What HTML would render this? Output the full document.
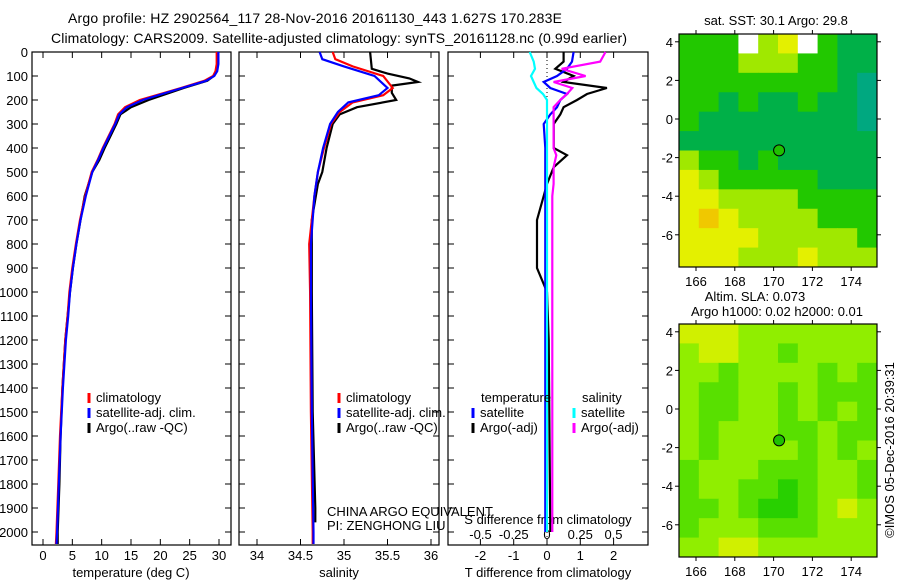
<!DOCTYPE html>
<html><head><meta charset="utf-8"><style>
body{margin:0;background:#fff}
svg{display:block;font-family:"Liberation Sans",sans-serif}
text{font-size:13px;fill:#000}
</style></head><body>
<svg id="c" width="900" height="580" viewBox="0 0 900 580" xmlns="http://www.w3.org/2000/svg">
<text x="68" y="23" textLength="494" style="font-size:14px">Argo profile: HZ 2902564_117 28-Nov-2016 20161130_443 1.627S 170.283E</text>
<text x="51" y="43" textLength="576" style="font-size:14px">Climatology: CARS2009. Satellite-adjusted climatology: synTS_20161128.nc (0.99d earlier)</text>
<g id="g"></g>
</svg>
<script>
const depthTicks=[0,100,200,300,400,500,600,700,800,900,1000,1100,1200,1300,1400,1500,1600,1700,1800,1900,2000];
const tempTicks=[0,5,10,15,20,25,30];
const salTicks=[34,34.5,35,35.5,36];
const tdiffTicks=[-2,-1,0,1,2];
const sdiffTicks=[-0.5,-0.25,0,0.25,0.5];
const sdiffLabels=["-0.5","-0.25","0","0.25","0.5"];
const tDepth=[0,50,80,100,120,150,175,200,230,260,300,350,400,450,500,600,700,800,900,1000,1100,1200,1400,1600,1800,2000,2050];
const tClim=[29.6,29.6,29.4,29,27.5,23.5,20,16.5,14,12.8,12.2,11.2,10.2,9.3,8.3,7.2,6.3,5.6,5,4.5,4.2,3.8,3.3,2.9,2.6,2.3,2.2];
const tSat =[29.9,29.9,29.7,29.2,27.8,23.7,20.3,17,14.3,13,12.3,11.3,10.3,9.4,8.4,7.3,6.4,5.7,5.1,4.6,4.3,3.9,3.4,3,2.7,2.4,2.3];
const tArgo=[29.8,29.8,29.6,29.1,28,24,21,18,15,13.2,12.5,11.5,10.5,9.6,8.4,7.1,6.4,5.7,5.1,4.6,4.2,3.8,3.3,3,2.8,2.5,2.5];
const sDepth=[0,30,60,100,150,180,210,250,300,400,500,600,800,1000,1500,2000,2050];
const sClim=[34.87,34.9,35.1,35.45,35.56,35.45,35.1,34.95,34.85,34.77,34.7,34.66,34.6,34.61,34.62,34.64,34.64];
const sSat =[34.72,34.75,35.0,35.35,35.5,35.4,35.05,34.93,34.84,34.76,34.7,34.66,34.62,34.62,34.63,34.65,34.65];
const aDepth=[0,70,90,110,125,140,170,200,230,260,300,400,500,550,700,1000,1500,1900,1960];
const sArgo=[35.3,35.32,35.5,35.75,35.85,35.55,35.55,35.6,35.15,34.95,34.87,34.8,34.75,34.7,34.63,34.63,34.64,34.67,34.67];
const dDepth=[0,40,70,100,125,150,175,200,230,260,300,400,430,480,550,600,700,800,900,1000,1200,2000];
const dT_argo=[0.5,0.5,0.25,0.8,0.5,1.8,1.2,0.9,0.5,0.4,0.2,0.2,0.6,0.2,0,-0.1,-0.3,-0.3,-0.3,0,0.05,0.1];
const dT_sat=[0.8,0.75,0.6,0.3,-0.1,0.1,0.6,0.4,0.3,0.1,-0.1,-0.05,-0.05,-0.05,-0.05,-0.05,-0.05,-0.05,-0.05,-0.05,-0.05,-0.05];
const dS_sat=[-0.13,-0.1,-0.09,-0.12,-0.1,-0.08,-0.03,0,0,0,0,0,0,0,0,0,0,0,0,0,0,0];
const dS_argo=[0.44,0.4,0.11,0.29,0.05,0.19,0.15,0.1,0.05,0.05,0.05,0.05,0.07,0.05,0.05,0.04,0.04,0.04,0.04,0.04,0.04,0.04];
const mapLonTicks=[166,168,170,172,174];
const mapLatTicks=[4,2,0,-2,-4,-6];
const sstRows=["GGGWLYWGDD","GGGLLLGGDD","GGGGGGGGDT","GGDGDDGDDT","GDDDDDDDDT","DDDDDDDDDD","LGGDGDDDDD","YLGGGGGDDD","YYLLLLGGGG","YOYLLLLGGG","YYYYLLLLLG","YYYLLLYLLL"];
const slaRows=["YYYLLLLLLL","LYYLLGLLLL","LLGLLLLGLG","LGGLLGLGGG","LGGLLGLGLG","LGLLLGGLGG","LGLLLLGLGL","GLLLGGGLLG","GLLGGDGLLG","GGLGDDGLYL","GLLLGGGLLL","LLYYLLLLLL"];
const argoLon=170.283, argoLat=-1.627;

const NS="http://www.w3.org/2000/svg";
const G=document.getElementById('g');
function el(tg,a,p){const e=document.createElementNS(NS,tg);for(const k in a)e.setAttribute(k,a[k]);(p||G).appendChild(e);return e;}
function txt(s,x,y,anchor,p){const e=el('text',{x:x,y:y,'text-anchor':anchor||'start'},p);e.textContent=s;return e;}
const pTop=52,pBot=545;
const yD=d=>pTop+d*0.24;
const xT=v=>43+v*(176/30);
const xS=v=>257+(v-34)*87;
const xDT=v=>547+v*33.3;
const xDS=v=>547+v*133;

function frame(x0,x1,name){
  const r=el('rect',{x:x0,y:pTop,width:x1-x0,height:pBot-pTop,fill:'none',stroke:'#000','stroke-width':1.2});
  
  
}
frame(32,231,'temperature-panel');frame(239,439,'salinity-panel');frame(448,648,'difference-panel');
depthTicks.forEach(d=>{
  const y=yD(d);
  [[32,231],[239,439],[448,648]].forEach(([a,b])=>{el('line',{x1:a,y1:y,x2:a+6,y2:y,stroke:'#000'});el('line',{x1:b,y1:y,x2:b-6,y2:y,stroke:'#000'});});
  const e=txt(String(d),28,y+5,'end');
  
  
});
function xticks(ticks,f,ly){
  ticks.forEach(v=>{const x=f(v);el('line',{x1:x,y1:pTop,x2:x,y2:pTop+6,stroke:'#000'});el('line',{x1:x,y1:pBot,x2:x,y2:pBot-6,stroke:'#000'});
    const e=txt(String(v),x,ly,'middle');
    
    });
}
xticks(tempTicks,xT,560);
xticks(salTicks,xS,560);
xticks(tdiffTicks,xDT,560);
sdiffTicks.forEach((v,i)=>{const e=txt(sdiffLabels[i],xDS(v),539,'middle');
  
  });
let t;
t=txt('temperature (deg C)',131,577,'middle');
t=txt('salinity',339,577,'middle');
t=txt('T difference from climatology',548,577,'middle');
t=txt('S difference from climatology',548,524,'middle');
t=txt('CHINA ARGO EQUIVALENT',327,516);
t=txt('PI: ZENGHONG LIU',327,530);
el('line',{x1:547,y1:pTop,x2:547,y2:pBot,stroke:'#000','stroke-dasharray':'1,3'});
function line(depths,vals,fx,color,name,w){
  const p=el('polyline',{points:depths.map((d,i)=>fx(vals[i]).toFixed(1)+','+yD(d).toFixed(1)).join(' '),fill:'none',stroke:color,'stroke-width':w||2.2});
  
  
}
line(tDepth,tArgo,xT,'#000','temp-argo-line');
line(tDepth,tClim,xT,'#f00','temp-climatology-line');
line(tDepth,tSat,xT,'#00f','temp-satellite-line');
line(aDepth,sArgo,xS,'#000','sal-argo-line');
line(sDepth,sClim,xS,'#f00','sal-climatology-line');
line(sDepth,sSat,xS,'#00f','sal-satellite-line');
line(dDepth,dT_argo,xDT,'#000','tdiff-argo-line');
line(dDepth,dT_sat,xDT,'#00f','tdiff-satellite-line');
line(dDepth,dS_argo,xDS,'#f0f','sdiff-argo-line');
line(dDepth,dS_sat,xDS,'#0ff','sdiff-satellite-line');
function leg(x,y,c,s,name){el('line',{x1:x,y1:y-9,x2:x,y2:y+1,stroke:c,'stroke-width':3});const e=txt(s,x+7,y);
  
  }
[[89,'temp'],[339,'sal']].forEach(([x,n])=>{
  leg(x,402,'#f00','climatology',n+'-legend-climatology');
  leg(x,417,'#00f','satellite-adj. clim.',n+'-legend-satellite');
  leg(x,432,'#000','Argo(..raw -QC)',n+'-legend-argo');});
t=txt('temperature',481,402);
t=txt('salinity',582,402);
leg(473,417,'#00f','satellite','legend-t-satellite');
leg(473,432,'#000','Argo(-adj)','legend-t-argo');
leg(574,417,'#0ff','satellite','legend-s-satellite');
leg(574,432,'#f0f','Argo(-adj)','legend-s-argo');
const mx0=679,mx1=877;
const lonX=l=>696+(l-166)*19.4;
function map(y0,rows,cols,name,latY){
  const g=el('g',{});
  
  
  const h=233,nr=rows.length,nc=rows[0].length;
  rows.forEach((r,i)=>{[...r].forEach((ch,j)=>{
    const c=el('rect',{x:mx0+j*(mx1-mx0)/nc,y:y0+i*h/nr,width:(mx1-mx0)/nc+0.5,height:h/nr+0.5,fill:cols[ch]},g);
    
    
  });});
  el('rect',{x:mx0,y:y0,width:mx1-mx0,height:h,fill:'none',stroke:'#000','stroke-width':1.2});
  mapLonTicks.forEach(l=>{const x=lonX(l);el('line',{x1:x,y1:y0,x2:x,y2:y0-4,stroke:'#000'});el('line',{x1:x,y1:y0+h,x2:x,y2:y0+h+4,stroke:'#000'});
    const e=txt(String(l),x,y0+h+19,'middle');
    
    });
  mapLatTicks.forEach(la=>{const y=latY(la);el('line',{x1:mx0,y1:y,x2:mx0-4,y2:y,stroke:'#000'});el('line',{x1:mx1,y1:y,x2:mx1+4,y2:y,stroke:'#000'});
    const e=txt(String(la),673,y+5,'end');
    
    });
  const c=el('circle',{cx:lonX(argoLon),cy:latY(argoLat),r:5.5,fill:'#20c000',stroke:'#000','stroke-width':1});
  
  
}
map(34,sstRows,{G:'#22c800',D:'#00b048',T:'#00a880',L:'#a0e800',Y:'#e4f000',O:'#f0c800',W:'#ffffff'},'sst-map',la=>119-la*19.3);
map(324,slaRows,{Y:'#d0f000',L:'#90ee00',G:'#58e000',D:'#28d000'},'sla-map',la=>409-la*19.3);
t=txt('sat. SST: 30.1  Argo: 29.8',776,25,'middle');
t=txt('Altim. SLA: 0.073',755,301,'middle');
t=txt('Argo h1000: 0.02 h2000: 0.01',777,316,'middle');
t=txt('©IMOS 05-Dec-2016 20:39:31',0,0,'middle');t.setAttribute('transform','translate(894,450) rotate(-90)');

</script>
</body></html>
